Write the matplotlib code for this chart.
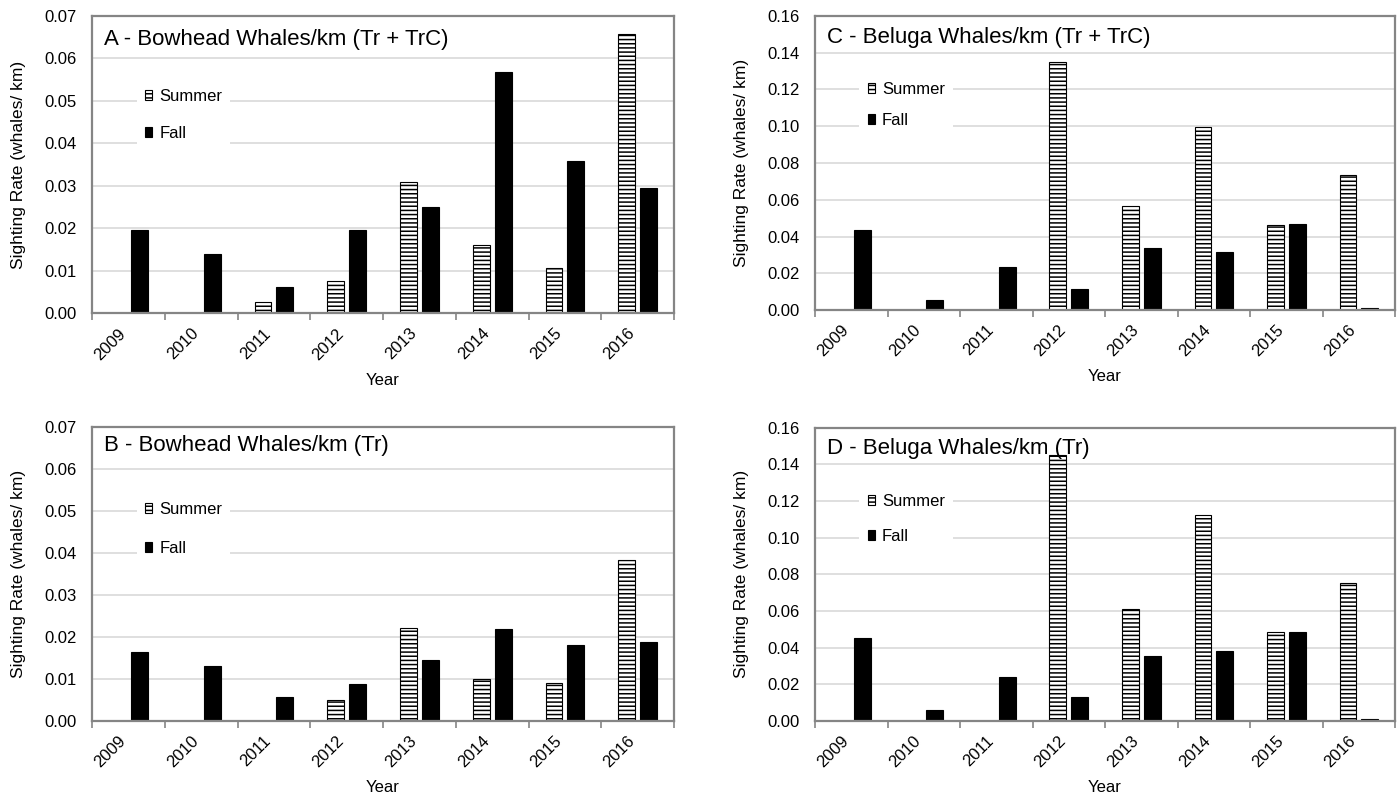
import numpy as np
import matplotlib
matplotlib.use("Agg")
import matplotlib.pyplot as plt
from matplotlib.ticker import FormatStrFormatter
from matplotlib.transforms import ScaledTranslation

plt.rcParams["font.family"] = ["Liberation Sans", "DejaVu Sans"]
plt.rcParams["hatch.linewidth"] = 1.1

years = ["2009", "2010", "2011", "2012", "2013", "2014", "2015", "2016"]

# A - bowhead, Tr + TrC
bowhead_all_summer = [0, 0, 0.0026, 0.0075, 0.0310, 0.0161, 0.0106, 0.0657]
bowhead_all_fall = [0.0195, 0.0140, 0.0061, 0.0196, 0.0250, 0.0569, 0.0359, 0.0294]

# B - bowhead, Tr only
bowhead_tr_summer = [0, 0, 0, 0.0050, 0.0222, 0.0101, 0.0090, 0.0384]
bowhead_tr_fall = [0.0164, 0.0130, 0.0057, 0.0089, 0.0146, 0.0218, 0.0180, 0.0189]

# C - beluga, Tr + TrC
beluga_all_summer = [0, 0, 0, 0.1351, 0.0564, 0.0996, 0.0464, 0.0736]
beluga_all_fall = [0.0433, 0.0055, 0.0236, 0.0115, 0.0336, 0.0318, 0.0469, 0.0013]

# D - beluga, Tr only
beluga_tr_summer = [0, 0, 0, 0.1449, 0.0612, 0.1123, 0.0484, 0.0752]
beluga_tr_fall = [0.0453, 0.0058, 0.0241, 0.0130, 0.0357, 0.0380, 0.0484, 0.0013]

SPINE = "#858585"
GRID = "#d9d9d9"


def draw_panel(ax, title, summer, fall, ymax, ystep, fmt, leg_top, leg_space, title_y):
    x = np.arange(len(years))
    w = 0.233
    off = 0.15
    ax.bar(x - off, summer, w, color="white", edgecolor="black", hatch="----",
           linewidth=0.8, zorder=2, label="Summer")
    ax.bar(x + off, fall, w, color="black", edgecolor="black",
           linewidth=0.8, zorder=2, label="Fall")

    ax.set_xlim(-0.5, len(years) - 0.5)
    ax.set_ylim(0, ymax)
    ax.set_yticks(np.arange(0, ymax + ystep / 2, ystep))
    ax.yaxis.set_major_formatter(FormatStrFormatter(fmt))
    ax.yaxis.grid(True, color=GRID, linewidth=1.2, zorder=0)
    ax.set_axisbelow(True)

    ax.set_xticks(x)
    ax.set_xticklabels(years, rotation=45, ha="right", va="top")
    shift = ScaledTranslation(6 / 100, 0, ax.figure.dpi_scale_trans)
    for lab in ax.get_xticklabels():
        lab.set_transform(lab.get_transform() + shift)
    ax.set_xticks(np.arange(-0.5, len(years), 1), minor=True)
    ax.tick_params(axis="x", which="major", length=0, pad=9, labelsize=12)
    ax.tick_params(axis="x", which="minor", length=5, width=1.2, color=SPINE, direction="out")
    ax.tick_params(axis="y", length=0, pad=11, labelsize=12)

    for s in ax.spines.values():
        s.set_color(SPINE)
        s.set_linewidth(1.6)

    ax.set_xlabel("Year", fontsize=12)
    ax.xaxis.set_label_coords(0.5, -0.226)
    ax.xaxis.label.set_va("center")
    ax.set_ylabel("Sighting Rate (whales/ km)", fontsize=12.5)
    ax.yaxis.set_label_coords(-0.127, 0.5)
    ax.yaxis.label.set_va("center")

    ax.text(0.02, title_y, title, transform=ax.transAxes, fontsize=16,
            ha="left", va="center", zorder=5)

    leg = ax.legend(loc="upper left", bbox_to_anchor=(0.068, leg_top), fontsize=12,
                    frameon=True, fancybox=False, framealpha=1, edgecolor="none",
                    handlelength=0.45, handleheight=0.55, handletextpad=0.4,
                    labelspacing=leg_space, borderpad=0.5, borderaxespad=0.3)
    leg.set_zorder(4)


fig = plt.figure(figsize=(13.99, 7.97), dpi=100)

ax_a = fig.add_axes([0.0658, 0.607, 0.416, 0.373])
ax_b = fig.add_axes([0.0658, 0.0954, 0.416, 0.369])
ax_c = fig.add_axes([0.5826, 0.611, 0.4146, 0.369])
ax_d = fig.add_axes([0.5826, 0.0954, 0.4146, 0.368])

draw_panel(ax_a, "A - Bowhead Whales/km (Tr + TrC)", bowhead_all_summer, bowhead_all_fall,
           0.07, 0.01, "%.2f", 0.80, 1.35, 0.92)
draw_panel(ax_b, "B - Bowhead Whales/km (Tr)", bowhead_tr_summer, bowhead_tr_fall,
           0.07, 0.01, "%.2f", 0.79, 1.45, 0.935)
draw_panel(ax_c, "C - Beluga Whales/km (Tr + TrC)", beluga_all_summer, beluga_all_fall,
           0.16, 0.02, "%.2f", 0.82, 0.95, 0.925)
draw_panel(ax_d, "D - Beluga Whales/km (Tr)", beluga_tr_summer, beluga_tr_fall,
           0.16, 0.02, "%.2f", 0.82, 1.2, 0.93)

fig.savefig("out.png", dpi=100)
